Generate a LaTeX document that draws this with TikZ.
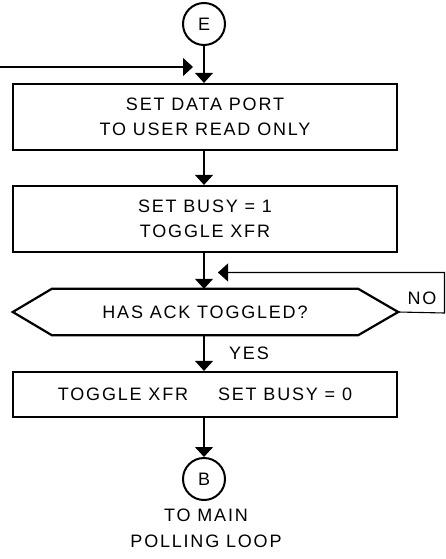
\documentclass[tikz,border=0pt]{standalone}
\usepackage{fontspec}
\setmainfont{Liberation Sans}[LetterSpace=10]
\usetikzlibrary{arrows.meta}
\tikzset{
  boxline/.style={draw=black, line width=2.2pt},
  procbox/.style={boxline, rectangle, minimum width=384pt, align=center, inner sep=0pt},
  conncirc/.style={boxline, circle, minimum size=42pt, inner sep=0pt, line width=2pt},
  conn/.style={draw=black, line width=1.1pt, -{Triangle[length=10pt,width=18pt]}},
  plain/.style={draw=black, line width=1.1pt},
  lbl/.style={inner sep=0pt, align=center}
}
\begin{document}
\begin{tikzpicture}[x=1pt, y=-1pt, font=\fontsize{18}{25.5}\selectfont]
\useasboundingbox[fill=white] (0,0) rectangle (446,559);
% nodes
\node[conncirc] (E) at (204,24) {E};
\node[procbox, minimum height=66pt] (b1) at (205,117) {SET DATA PORT\\TO USER READ ONLY};
\node[procbox, minimum height=66pt] (b2) at (205,219) {SET BUSY = 1\\TOGGLE XFR};
\node[lbl, minimum width=306pt, minimum height=46pt] (dec) at (205,312) {HAS ACK TOGGLED?};
\draw[boxline] (dec.north west) -- (dec.north east) -- ([xshift=40pt]dec.east) -- (dec.south east)
  -- (dec.south west) -- ([xshift=-39pt]dec.west) -- cycle;
\coordinate (decR) at ([xshift=40pt]dec.east);
\node[procbox, minimum height=45pt] (b3) at (205,394.5) {TOGGLE XFR\hspace{30pt}SET BUSY = 0};
\node[conncirc] (B) at (204,479) {B};
\node[lbl, anchor=north] (tm) at (206,509) {TO MAIN\\POLLING LOOP};
\node[lbl] (no) at (422,298) {NO};
\node[lbl] (yes) at (249,353) {YES};
% coordinates
\coordinate (in0) at (0,67);
\coordinate (in1) at (193,67);
\coordinate (loopA) at (444.5,313);
\coordinate (loopTip) at (218,272.5);
% connectors
\draw[conn] (E.south) -- (E.south |- b1.north);
\draw[conn] (in0) -- (in1);
\draw[conn] (E.south |- b1.south) -- (E.south |- b2.north);
\draw[conn] (E.south |- b2.south) -- (E.south |- dec.north);
\draw[plain] (decR) -- (loopA) |- (loopTip);
\draw[conn] ([xshift=2pt]loopTip) -- (loopTip);
\draw[conn] (E.south |- dec.south) -- (E.south |- b3.north);
\draw[conn] (E.south |- b3.south) -- (B.north);
\end{tikzpicture}
\end{document}
